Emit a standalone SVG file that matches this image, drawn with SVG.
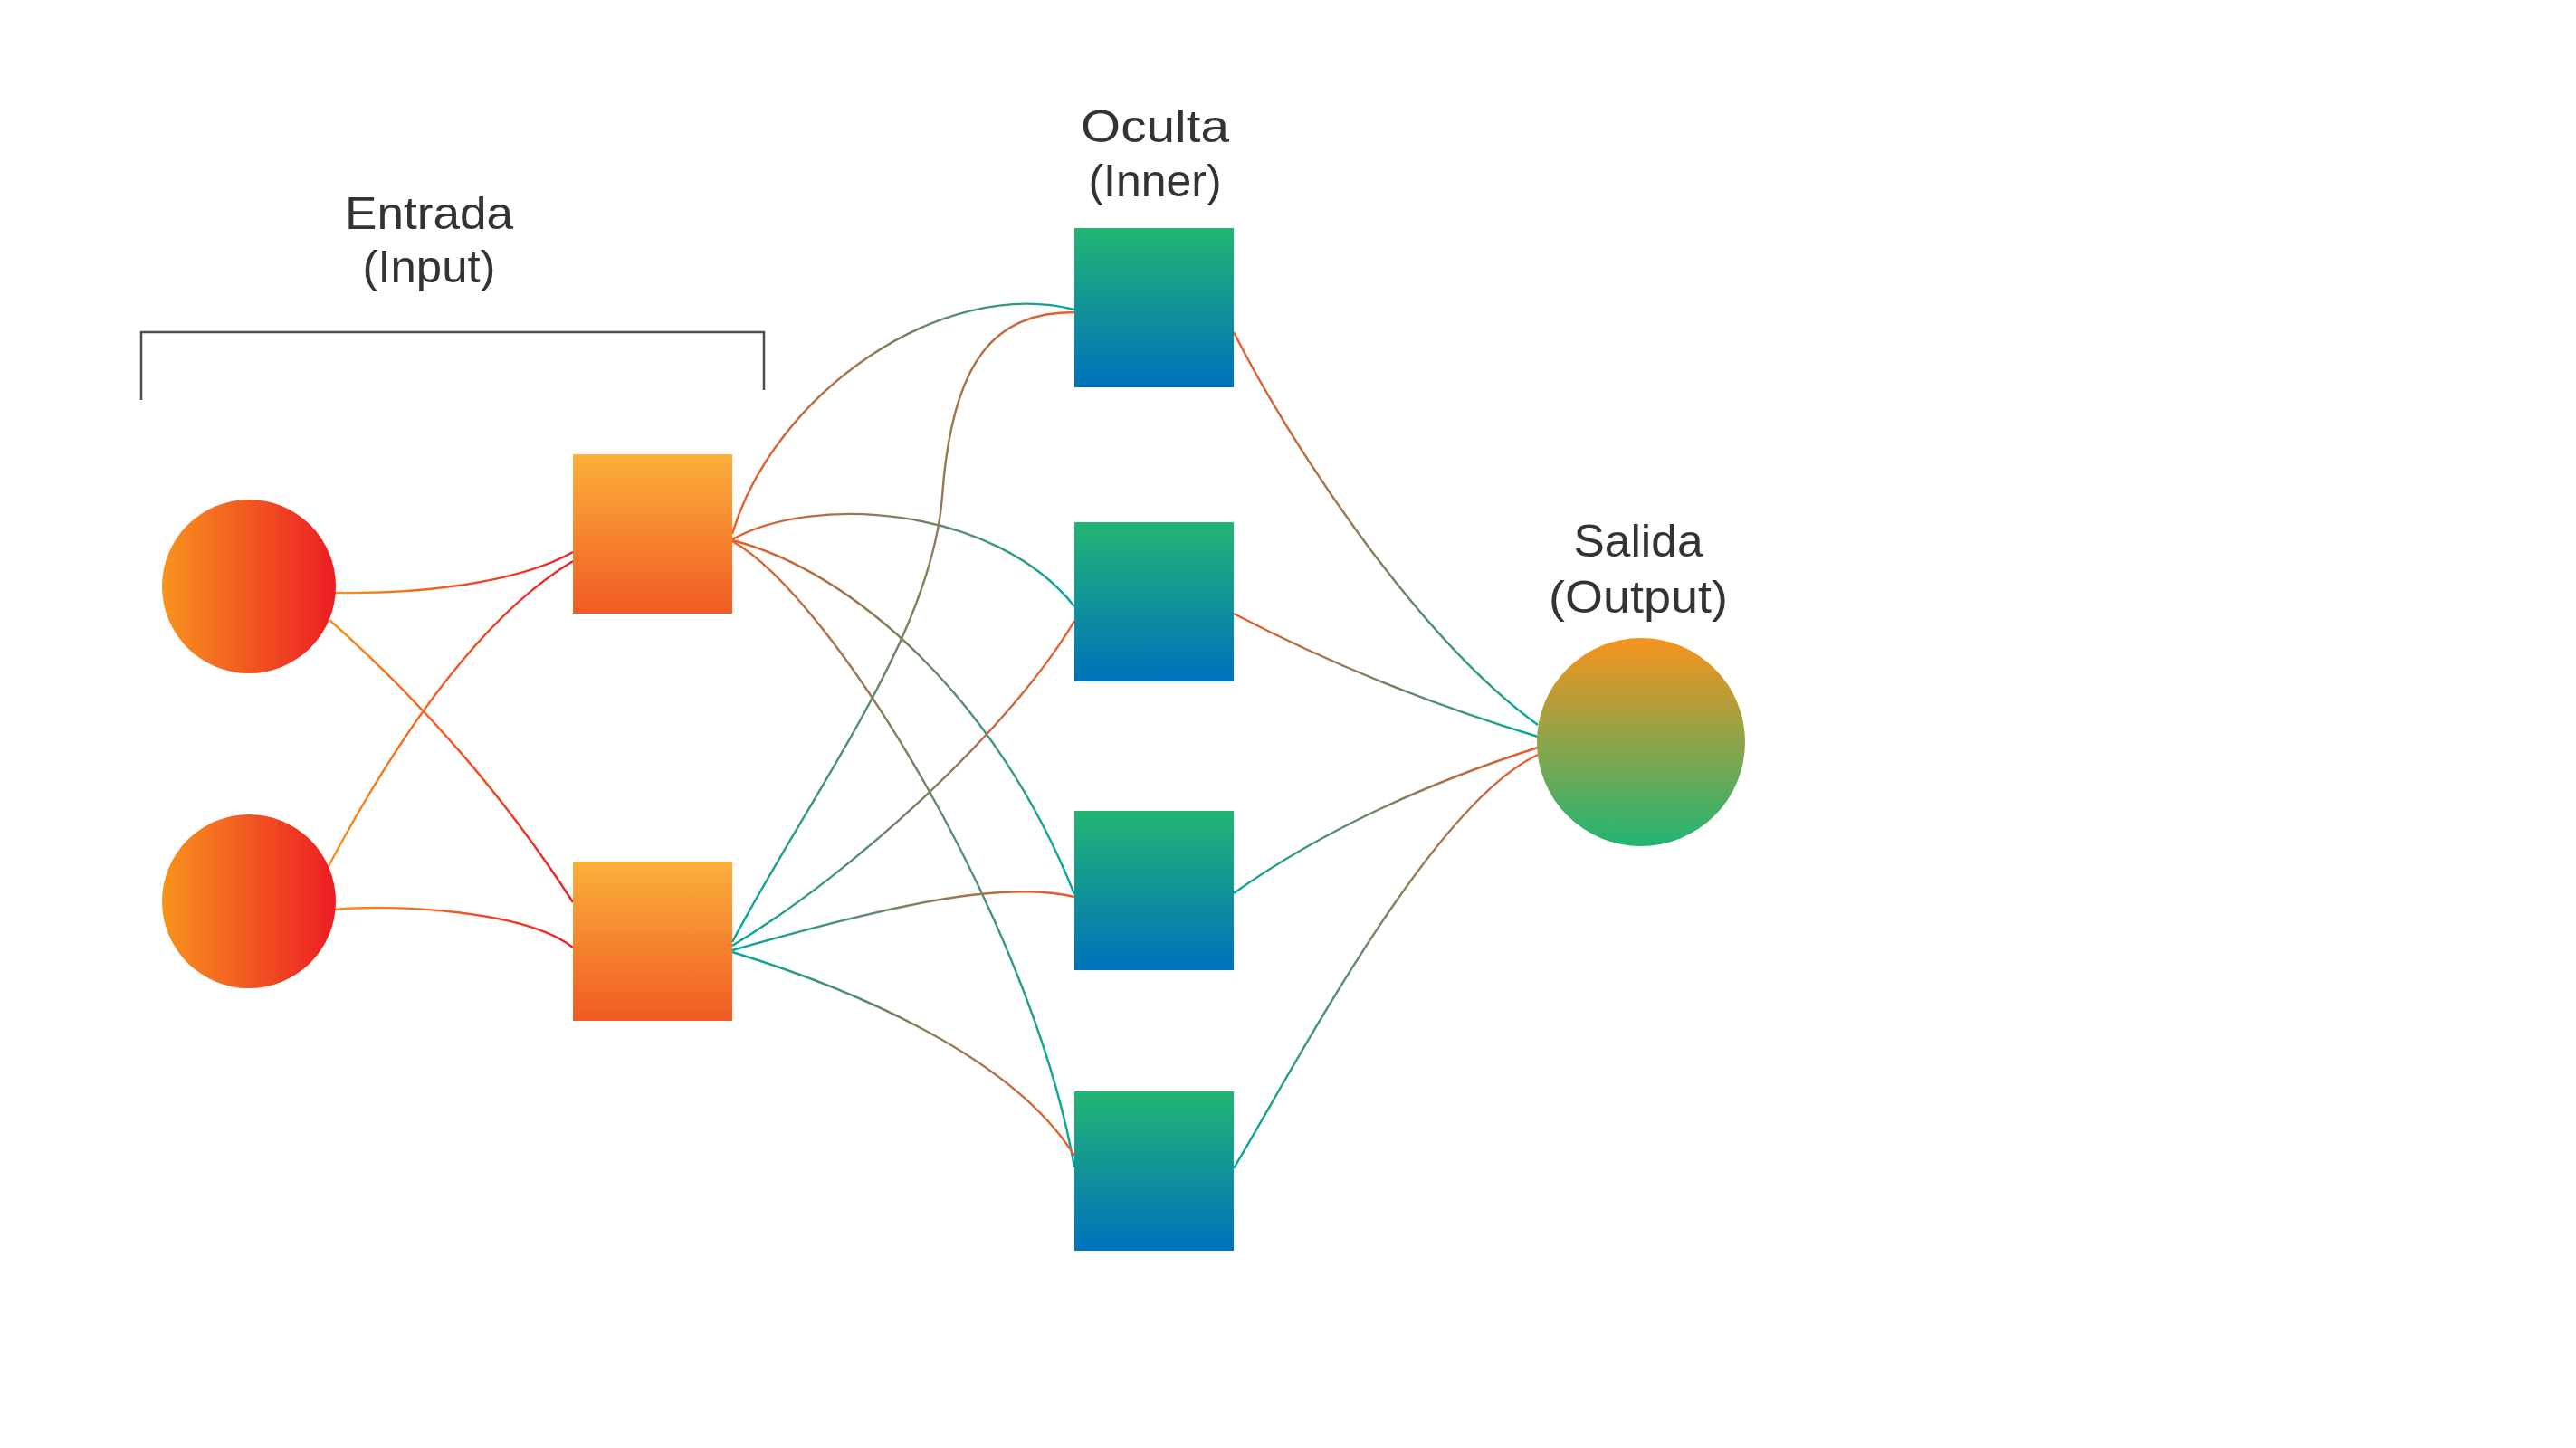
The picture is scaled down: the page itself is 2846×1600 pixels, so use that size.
<svg xmlns="http://www.w3.org/2000/svg" width="2846" height="1600" viewBox="0 0 2846 1600">
  <defs>
    <linearGradient id="gInCircle" x1="0" y1="0" x2="1" y2="0">
      <stop offset="0" stop-color="#f7931e"/>
      <stop offset="1" stop-color="#ed1c24"/>
    </linearGradient>
    <linearGradient id="gOrangeRect" x1="0" y1="0" x2="0" y2="1">
      <stop offset="0" stop-color="#fbb03b"/>
      <stop offset="1" stop-color="#f15a24"/>
    </linearGradient>
    <linearGradient id="gBlueRect" x1="0" y1="0" x2="0" y2="1">
      <stop offset="0" stop-color="#22b573"/>
      <stop offset="1" stop-color="#0071bc"/>
    </linearGradient>
    <linearGradient id="gOutCircle" x1="0" y1="0" x2="0" y2="1">
      <stop offset="0" stop-color="#f7931e"/>
      <stop offset="1" stop-color="#22b573"/>
    </linearGradient>
    <linearGradient id="gLineIn" x1="0" y1="0" x2="1" y2="0">
      <stop offset="0" stop-color="#f7931e"/>
      <stop offset="1" stop-color="#ed1c24"/>
    </linearGradient>
    <linearGradient id="gLineOT" x1="0" y1="0" x2="1" y2="0">
      <stop offset="0" stop-color="#f15a24"/>
      <stop offset="1" stop-color="#00a99d"/>
    </linearGradient>
    <linearGradient id="gLineTO" x1="0" y1="0" x2="1" y2="0">
      <stop offset="0" stop-color="#00a99d"/>
      <stop offset="1" stop-color="#f15a24"/>
    </linearGradient>
  </defs>
  <style>
    .lbl { font-family: "Liberation Sans", Arial, sans-serif; font-size: 50px; fill: #333333; text-anchor: middle; }
    .conn { fill: none; stroke-width: 2.4; }
    .in { stroke: url(#gLineIn); }
    .ot { stroke: url(#gLineOT); }
    .to { stroke: url(#gLineTO); }
    .bracket { fill: none; stroke: #4d4d4d; stroke-width: 2.5; }
  </style>
  <rect x="0" y="0" width="2846" height="1600" fill="#ffffff"/>

  <g id="labels">
    <text class="lbl" x="474" y="253" textLength="186" lengthAdjust="spacingAndGlyphs">Entrada</text>
    <text class="lbl" x="474" y="312" textLength="147" lengthAdjust="spacingAndGlyphs">(Input)</text>
    <text class="lbl" x="1276" y="157" textLength="164" lengthAdjust="spacingAndGlyphs">Oculta</text>
    <text class="lbl" x="1276" y="217" textLength="147" lengthAdjust="spacingAndGlyphs">(Inner)</text>
    <text class="lbl" x="1810" y="615" textLength="143" lengthAdjust="spacingAndGlyphs">Salida</text>
    <text class="lbl" x="1810" y="677" textLength="198" lengthAdjust="spacingAndGlyphs">(Output)</text>
  </g>

  <g id="input-bracket">
    <path class="bracket" d="M156,442 V367 H844 V431"/>
  </g>

  <g id="connectors">
    <path class="conn in" d="M370,655 C480,657 580,640 633,610"/>
    <path class="conn in" d="M364,685 Q522,825 633,997"/>
    <path class="conn in" d="M363,957 Q500,700 633,620"/>
    <path class="conn in" d="M370,1005 C430,999 580,1005 633,1047"/>

    <path class="conn ot" d="M809,590 C855,435 1040,305 1187,342"/>
    <path class="conn ot" d="M809,596 C900,545 1100,560 1187,670"/>
    <path class="conn ot" d="M809,597 C940,630 1100,770 1187,988"/>
    <path class="conn ot" d="M809,598 C920,660 1140,1020 1187,1290"/>

    <path class="conn to" d="M809,1041 C900,870 1030,700 1041,548 C1052,396 1100,345 1187,345"/>
    <path class="conn to" d="M809,1045 C950,960 1120,800 1187,686"/>
    <path class="conn to" d="M809,1050 C950,1010 1100,970 1187,991"/>
    <path class="conn to" d="M809,1052 C950,1095 1120,1170 1187,1277"/>

    <path class="conn ot" d="M1363,367 C1420,480 1560,700 1699,801"/>
    <path class="conn ot" d="M1363,678 Q1520,760 1699,814"/>
    <path class="conn to" d="M1363,987 Q1500,890 1699,826"/>
    <path class="conn to" d="M1363,1291 C1430,1180 1580,890 1699,834"/>
  </g>

  <g id="input-1"><circle cx="275" cy="648" r="96" fill="url(#gInCircle)"/></g>
  <g id="input-2"><circle cx="275" cy="996" r="96" fill="url(#gInCircle)"/></g>

  <g id="layer1-1"><rect x="633" y="502" width="176" height="176" fill="url(#gOrangeRect)"/></g>
  <g id="layer1-2"><rect x="633" y="952" width="176" height="176" fill="url(#gOrangeRect)"/></g>

  <g id="hidden-1"><rect x="1187" y="252" width="176" height="176" fill="url(#gBlueRect)"/></g>
  <g id="hidden-2"><rect x="1187" y="577" width="176" height="176" fill="url(#gBlueRect)"/></g>
  <g id="hidden-3"><rect x="1187" y="896" width="176" height="176" fill="url(#gBlueRect)"/></g>
  <g id="hidden-4"><rect x="1187" y="1206" width="176" height="176" fill="url(#gBlueRect)"/></g>

  <g id="output"><circle cx="1813" cy="820" r="115" fill="url(#gOutCircle)"/></g>
</svg>
